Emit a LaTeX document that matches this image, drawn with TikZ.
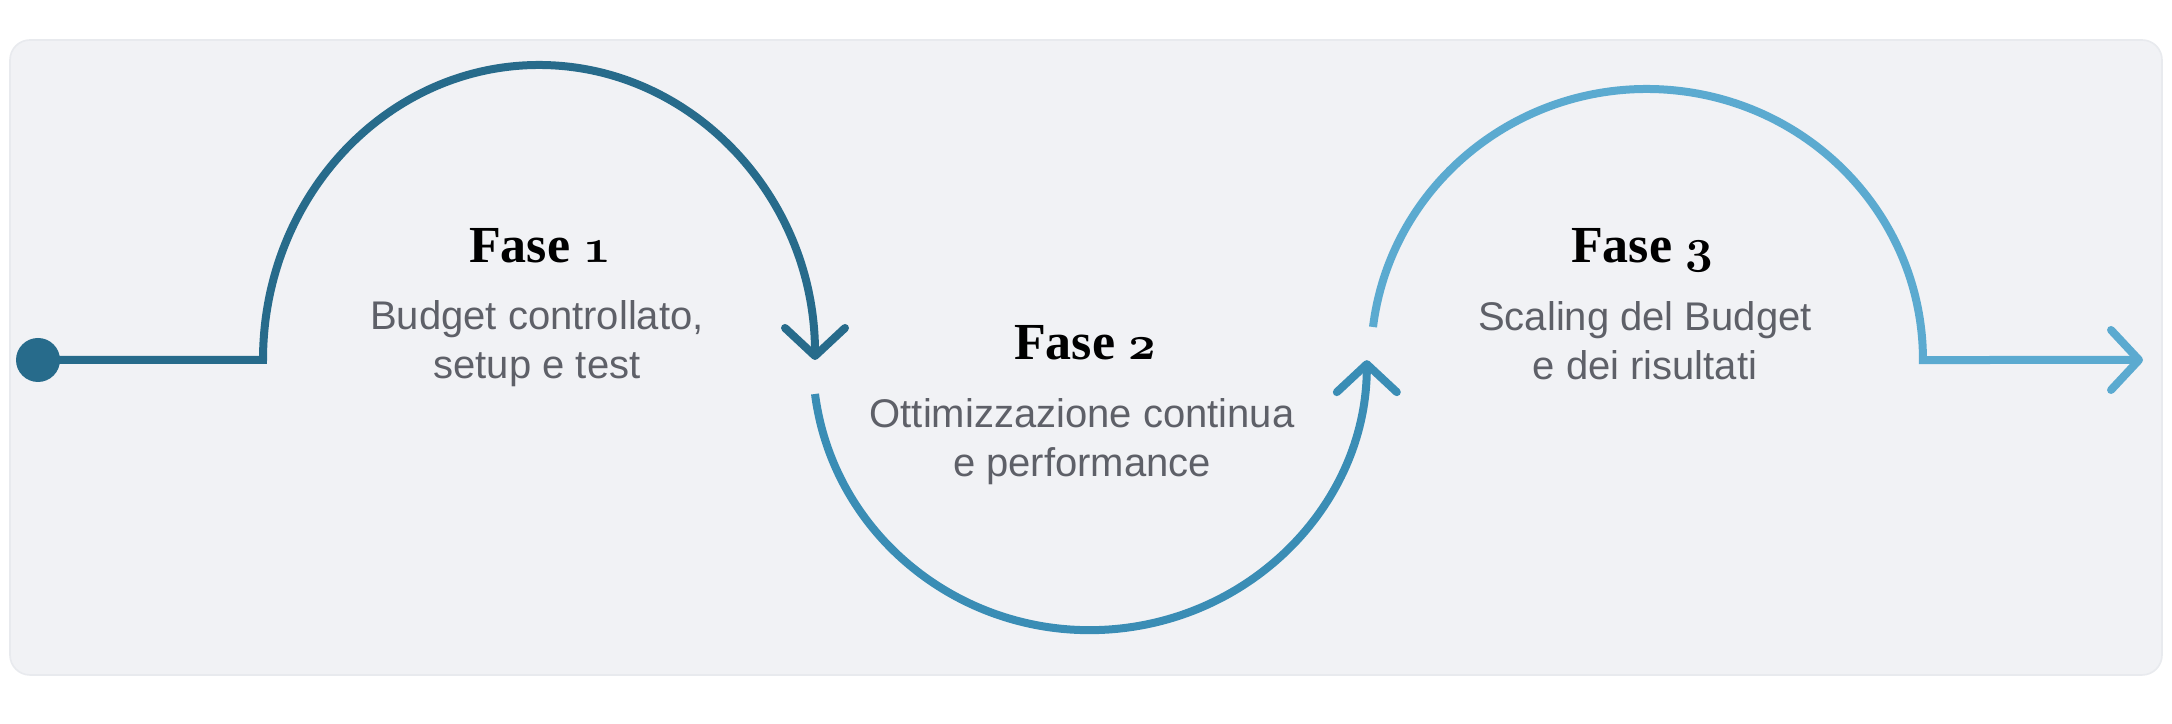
\documentclass[tikz,border=0pt]{standalone}
\usepackage{fontspec}
\usepackage{tikz}
\usetikzlibrary{arrows.meta}
\newfontfamily\headfont{Liberation Serif}
\newfontfamily\descfont{Liberation Sans}
\newcommand{\phasenum}[1]{{\usefont{OML}{cmm}{b}{it}#1}}
\definecolor{bg-grey}{HTML}{F1F2F5}
\definecolor{frame-grey}{HTML}{E8EAEE}
\definecolor{deep-teal}{HTML}{276B8B}
\definecolor{mid-teal}{HTML}{3A8DB5}
\definecolor{light-teal}{HTML}{5BAAD0}
\definecolor{text-grey}{HTML}{5E6068}

\begin{document}
\begin{tikzpicture}[x=0.25pt, y=0.25pt,
    phase/.style={font=\headfont\bfseries\fontsize{13}{15}\selectfont, text=black, anchor=base, inner sep=0pt},
    desc/.style={font=\descfont\fontsize{10}{12.25}\selectfont, text=text-grey, align=center, anchor=base, inner sep=0pt},
    track/.style={line width=2pt},
    tip/.style={-{Straight Barb[length=7pt, width=15pt, round]}}]
    \useasboundingbox (0, 0) rectangle (2172, 724);
    \fill[white] (0, 0) rectangle (2172, 724);
    \draw[frame-grey, fill=bg-grey, rounded corners=5pt] (10, 49) rectangle (2162, 684);

    % points along the track
    \coordinate (dot) at (38, 364);
    \coordinate (c1) at (263, 364);
    \coordinate (s2) at (815, 330);
    \coordinate (s3) at (1373, 397);
    \coordinate (e3) at (2143, 364);

    % phase 1
    \fill[deep-teal] (dot) circle[radius=22];
    \draw[track, tip, deep-teal] (dot) -- (c1)
        arc[start angle=180, end angle=0, x radius=276, y radius=295];
    % phase 2
    \draw[track, tip, mid-teal] (s2)
        arc[start angle=187.2, end angle=360, x radius=277, y radius=270];
    % phase 3
    \draw[track, tip, light-teal] (s3)
        arc[start angle=173, end angle=0, x radius=276, y radius=271] -- (e3);

    \node[phase] (f1) at (540, 461) {Fase \phasenum{1}};
    \node[desc] (d1) at (537, 345) {Budget controllato,\\setup e test};
    \node[phase] (f2) at (1085, 364) {Fase \phasenum{2}};
    \node[desc] (d2) at (1082, 247) {Ottimizzazione continua\\e performance};
    \node[phase] (f3) at (1642, 461) {Fase \phasenum{3}};
    \node[desc] (d3) at (1645, 344) {Scaling del Budget\\e dei risultati};
\end{tikzpicture}
\end{document}
